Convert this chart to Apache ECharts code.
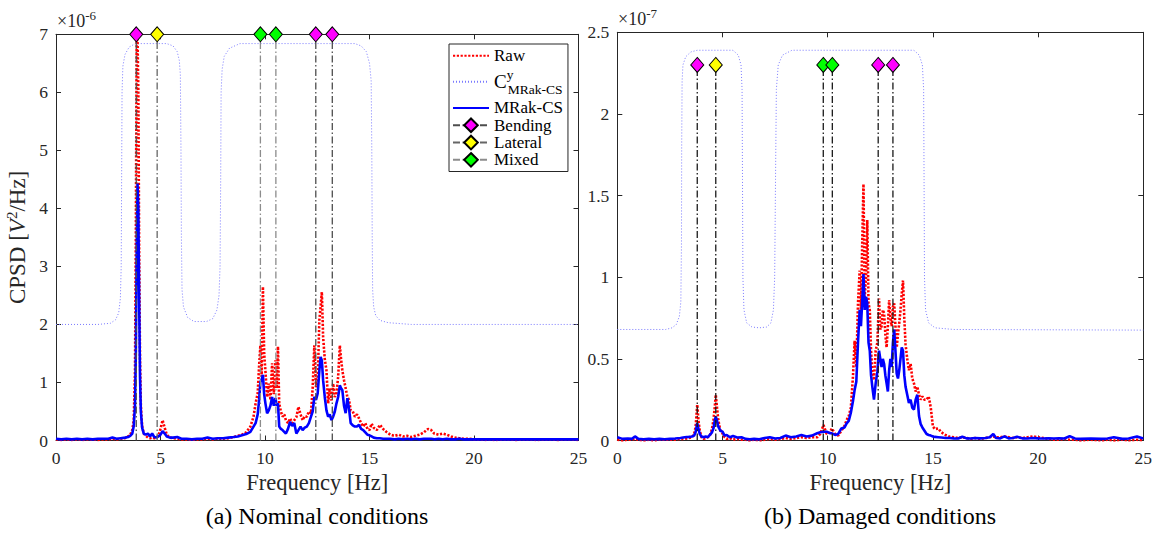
<!DOCTYPE html>
<html><head><meta charset="utf-8">
<script src="https://cdn.jsdelivr.net/npm/echarts@6/dist/echarts.min.js"></script>
<style>html,body{margin:0;padding:0;background:#fff}#c{width:1157px;height:537px}</style>
</head><body><div id="c"></div>
<script>
// ---------- (a) Nominal conditions, values x1e-6 ----------
const freqNom = [
0, 0.25, 0.5, 0.75, 1.0, 1.25, 1.5, 1.75, 2.0, 2.25,
2.5, 2.7, 2.9, 3.1, 3.3, 3.45, 3.55, 3.65, 3.72, 3.78,
3.82, 3.86, 3.9, 3.94, 3.98, 4.02, 4.06, 4.12, 4.2, 4.3,
4.4, 4.5, 4.6, 4.7, 4.8, 4.9, 5.0, 5.1, 5.2, 5.3,
5.45, 5.6, 5.8, 6.0, 6.25, 6.5, 6.75, 7.0, 7.25, 7.5,
7.75, 8.0, 8.25, 8.5, 8.7, 8.9, 9.1, 9.3, 9.45, 9.55,
9.65, 9.72, 9.78, 9.84, 9.9, 9.96, 10.02, 10.1, 10.18, 10.26,
10.34, 10.42, 10.5, 10.56, 10.62, 10.68, 10.76, 10.84, 10.92, 11.0,
11.1, 11.2, 11.3, 11.4, 11.5, 11.6, 11.7, 11.8, 11.9, 12.0,
12.1, 12.2, 12.28, 12.36, 12.44, 12.52, 12.6, 12.66, 12.72, 12.78,
12.86, 12.94, 13.02, 13.1, 13.18, 13.26, 13.34, 13.42, 13.5, 13.58,
13.64, 13.7, 13.78, 13.86, 13.94, 14.02, 14.1, 14.2, 14.3, 14.4,
14.5, 14.6, 14.7, 14.8, 14.9, 15.0, 15.1, 15.2, 15.35, 15.5,
15.65, 15.8, 16.0, 16.2, 16.4, 16.6, 16.8, 17.0, 17.2, 17.4,
17.6, 17.8, 17.95, 18.1, 18.3, 18.5, 18.7, 18.9, 19.1, 19.3,
19.5, 19.75, 20.0, 20.25, 20.5, 20.75, 21.0, 21.5, 22.0, 22.5,
23.0, 23.5, 24.0, 24.5, 25.0];
const rawNom = [
0.02, 0.01, 0.02, 0.01, 0.02, 0.01, 0.02, 0.02, 0.01, 0.02,
0.02, 0.03, 0.02, 0.03, 0.04, 0.07, 0.1, 0.18, 0.35, 1.2,
3.5, 6.9, 6.95, 6.0, 3.2, 1.4, 0.6, 0.25, 0.12, 0.08,
0.05, 0.04, 0.05, 0.04, 0.05, 0.08, 0.2, 0.35, 0.22, 0.1,
0.05, 0.04, 0.03, 0.02, 0.02, 0.01, 0.02, 0.02, 0.03, 0.02,
0.03, 0.03, 0.04, 0.06, 0.08, 0.1, 0.14, 0.24, 0.41, 0.64,
0.81, 1.3, 1.64, 1.1, 2.65, 1.5, 1.2, 0.75, 0.98, 0.7,
1.33, 0.8, 1.38, 0.9, 1.62, 0.64, 0.5, 0.41, 0.45, 0.35,
0.3, 0.38, 0.3, 0.35, 0.4, 0.58, 0.45, 0.35, 0.42, 0.41,
0.5, 0.47, 0.9, 1.64, 0.92, 1.0, 2.07, 2.3, 2.56, 1.79,
1.4, 1.21, 0.64, 0.9, 0.69, 0.98, 0.75, 0.81, 1.1, 1.64,
1.4, 1.21, 1.04, 0.9, 0.75, 0.7, 0.52, 0.5, 0.41, 0.45,
0.38, 0.3, 0.24, 0.3, 0.2, 0.18, 0.29, 0.22, 0.18, 0.27,
0.2, 0.15, 0.1, 0.08, 0.1, 0.07, 0.08, 0.06, 0.08, 0.1,
0.14, 0.2, 0.18, 0.12, 0.1, 0.12, 0.1, 0.07, 0.05, 0.04,
0.03, 0.03, 0.02, 0.02, 0.01, 0.02, 0.01, 0.02, 0.01, 0.02,
0.01, 0.02, 0.01, 0.02, 0.01];
const mrakNom = [
0.03, 0.02, 0.03, 0.02, 0.03, 0.02, 0.03, 0.02, 0.03, 0.03,
0.03, 0.05, 0.03, 0.04, 0.05, 0.06, 0.08, 0.12, 0.25, 0.6,
1.5, 3.2, 4.43, 4.0, 2.4, 1.1, 0.5, 0.22, 0.12, 0.1,
0.12, 0.07, 0.12, 0.06, 0.05, 0.07, 0.1, 0.16, 0.12, 0.07,
0.05, 0.05, 0.06, 0.03, 0.03, 0.02, 0.03, 0.03, 0.05, 0.03,
0.04, 0.04, 0.05, 0.06, 0.07, 0.09, 0.11, 0.15, 0.24, 0.3,
0.45, 0.7, 1.01, 1.05, 1.13, 0.8, 0.64, 0.47, 0.52, 0.6,
0.75, 0.6, 0.73, 0.6, 0.64, 0.24, 0.2, 0.18, 0.15, 0.12,
0.2, 0.32, 0.25, 0.3, 0.12, 0.18, 0.24, 0.18, 0.22, 0.24,
0.3, 0.41, 0.5, 0.75, 0.7, 0.81, 1.2, 1.44, 1.38, 1.04,
0.75, 0.52, 0.41, 0.45, 0.35, 0.41, 0.5, 0.64, 0.75, 0.95,
0.9, 0.87, 0.6, 0.47, 0.73, 0.55, 0.3, 0.26, 0.24, 0.24,
0.27, 0.2, 0.18, 0.14, 0.1, 0.09, 0.07, 0.05, 0.04, 0.04,
0.03, 0.03, 0.03, 0.02, 0.03, 0.02, 0.03, 0.02, 0.03, 0.02,
0.03, 0.03, 0.03, 0.02, 0.03, 0.02, 0.03, 0.02, 0.02, 0.03,
0.02, 0.02, 0.02, 0.02, 0.02, 0.02, 0.02, 0.02, 0.02, 0.02,
0.02, 0.02, 0.02, 0.02, 0.02];
const cyNomF = [0, 2.0, 2.6, 2.85, 3.0, 3.08, 3.12, 3.14, 3.16, 3.2,
3.3, 3.5, 3.8, 5.3, 5.6, 5.8, 5.9, 5.95, 5.98, 6.0,
6.03, 6.1, 6.3, 6.6, 7.2, 7.5, 7.7, 7.8, 7.85, 7.88,
7.9, 7.95, 8.05, 8.3, 8.8, 14.3, 14.6, 14.85, 15.0, 15.08,
15.11, 15.13, 15.15, 15.2, 15.3, 15.5, 15.9, 17, 25];
const cyNomV = [2.0, 2.0, 2.02, 2.08, 2.2, 2.45, 3.0, 4.5, 6.0, 6.45,
6.65, 6.78, 6.84, 6.84, 6.8, 6.7, 6.55, 6.3, 5.0, 3.5,
2.6, 2.3, 2.12, 2.05, 2.05, 2.1, 2.25, 2.5, 3.0, 4.5,
6.0, 6.4, 6.62, 6.76, 6.84, 6.84, 6.8, 6.7, 6.5, 6.2,
5.0, 3.5, 2.6, 2.3, 2.15, 2.07, 2.03, 2.0, 2.0];
const bendNom = [3.84, 12.43, 13.22];
const latNom = [4.84];
const mixNom = [9.78, 10.52];
const markTopNom = 7;

// ---------- (b) Damaged conditions, values x1e-7 ----------
const freqDam = [
0, 0.25, 0.5, 0.7, 0.84, 1.0, 1.25, 1.5, 1.75, 2.0,
2.25, 2.5, 2.75, 3.0, 3.2, 3.4, 3.55, 3.65, 3.72, 3.8,
3.86, 3.92, 4.0, 4.1, 4.2, 4.3, 4.4, 4.5, 4.57, 4.63,
4.68, 4.74, 4.8, 4.9, 5.0, 5.1, 5.2, 5.35, 5.5, 5.7,
5.9, 6.1, 6.3, 6.5, 6.75, 7.0, 7.25, 7.5, 7.75, 8.0,
8.25, 8.5, 8.75, 9.0, 9.25, 9.5, 9.65, 9.8, 9.95, 10.1,
10.2, 10.35, 10.5, 10.65, 10.8, 10.9, 11.0, 11.1, 11.2, 11.28,
11.36, 11.44, 11.52, 11.58, 11.64, 11.7, 11.76, 11.82, 11.88, 11.94,
12.0, 12.06, 12.12, 12.2, 12.28, 12.36, 12.44, 12.5, 12.56, 12.62,
12.68, 12.74, 12.8, 12.86, 12.92, 12.98, 13.04, 13.1, 13.16, 13.22,
13.28, 13.34, 13.4, 13.46, 13.52, 13.58, 13.64, 13.7, 13.78, 13.86,
13.94, 14.02, 14.1, 14.18, 14.26, 14.34, 14.42, 14.5, 14.6, 14.7,
14.8, 14.9, 15.0, 15.1, 15.25, 15.4, 15.6, 15.8, 16.0, 16.2,
16.4, 16.6, 16.8, 17.0, 17.25, 17.5, 17.7, 17.87, 18.0, 18.2,
18.4, 18.6, 18.8, 19.0, 19.25, 19.5, 19.75, 20.0, 20.25, 20.5,
20.75, 21.0, 21.25, 21.5, 21.75, 22.0, 22.5, 23.0, 23.3, 23.6,
24.0, 24.3, 24.7, 25.0];
const rawDam = [
0.005, 0.0, 0.005, 0.005, 0.01, 0.005, 0.0, 0.005, 0.0, 0.005,
0.005, 0.005, 0.005, 0.01, 0.01, 0.015, 0.02, 0.04, 0.08, 0.22,
0.12, 0.06, 0.02, 0.01, 0.015, 0.02, 0.03, 0.07, 0.125, 0.2,
0.28, 0.2, 0.125, 0.06, 0.044, 0.02, 0.01, 0.015, 0.005, 0.01,
0.005, 0.005, 0.0, 0.005, 0.0, 0.005, 0.01, 0.005, 0.01, 0.015,
0.01, 0.015, 0.02, 0.015, 0.02, 0.02, 0.04, 0.095, 0.04, 0.05,
0.074, 0.04, 0.03, 0.06, 0.09, 0.125, 0.15, 0.2, 0.39, 0.61,
0.45, 0.84, 1.04, 0.8, 1.2, 1.57, 0.88, 1.0, 1.35, 0.84,
0.8, 0.55, 0.43, 0.37, 0.55, 0.6, 0.87, 0.68, 0.7, 0.8,
0.78, 0.65, 0.57, 0.7, 0.86, 0.75, 0.7, 0.82, 0.84, 0.7,
0.57, 0.65, 0.72, 0.8, 0.9, 0.98, 0.75, 0.59, 0.5, 0.43,
0.47, 0.38, 0.35, 0.3, 0.33, 0.28, 0.25, 0.27, 0.25, 0.25,
0.27, 0.2, 0.085, 0.07, 0.074, 0.05, 0.034, 0.023, 0.02, 0.015,
0.02, 0.015, 0.01, 0.015, 0.01, 0.015, 0.02, 0.025, 0.02, 0.02,
0.025, 0.02, 0.015, 0.02, 0.015, 0.02, 0.025, 0.02, 0.015, 0.01,
0.005, 0.005, 0.01, 0.005, 0.005, 0.0, 0.005, 0.0, 0.005, 0.0,
0.005, 0.0, 0.005, 0.0];
const mrakDam = [
0.02, 0.01, 0.012, 0.01, 0.025, 0.01, 0.008, 0.01, 0.008, 0.01,
0.008, 0.01, 0.012, 0.015, 0.02, 0.022, 0.025, 0.03, 0.05, 0.105,
0.07, 0.04, 0.025, 0.02, 0.025, 0.02, 0.035, 0.05, 0.074, 0.12,
0.146, 0.12, 0.085, 0.06, 0.054, 0.03, 0.034, 0.02, 0.027, 0.018,
0.02, 0.01, 0.008, 0.01, 0.008, 0.015, 0.02, 0.012, 0.015, 0.03,
0.02, 0.025, 0.034, 0.025, 0.03, 0.044, 0.05, 0.054, 0.054, 0.045,
0.044, 0.034, 0.04, 0.074, 0.08, 0.105, 0.12, 0.17, 0.24, 0.31,
0.36, 0.6, 0.8, 0.7, 0.85, 1.02, 0.8, 0.88, 0.84, 0.6,
0.55, 0.4, 0.33, 0.25, 0.35, 0.42, 0.55, 0.5, 0.45, 0.5,
0.47, 0.4, 0.35, 0.3, 0.43, 0.5, 0.45, 0.6, 0.68, 0.55,
0.41, 0.38, 0.43, 0.5, 0.57, 0.55, 0.4, 0.33, 0.28, 0.23,
0.25, 0.2, 0.19, 0.25, 0.28, 0.15, 0.1, 0.08, 0.06, 0.04,
0.034, 0.03, 0.025, 0.022, 0.02, 0.018, 0.015, 0.015, 0.013, 0.012,
0.023, 0.013, 0.012, 0.015, 0.013, 0.015, 0.02, 0.04, 0.015, 0.013,
0.025, 0.013, 0.015, 0.023, 0.013, 0.012, 0.015, 0.013, 0.012, 0.013,
0.012, 0.013, 0.012, 0.027, 0.012, 0.01, 0.012, 0.01, 0.012, 0.02,
0.01, 0.012, 0.025, 0.012];
const cyDamF = [0, 2.3, 2.6, 2.8, 2.95, 3.02, 3.05, 3.06, 3.08, 3.12,
3.25, 3.5, 3.8, 5.5, 5.75, 5.88, 5.93, 5.95, 5.97, 6.02,
6.15, 6.4, 6.75, 7.1, 7.3, 7.42, 7.48, 7.52, 7.56, 7.65,
7.85, 8.3, 14.1, 14.35, 14.5, 14.56, 14.58, 14.6, 14.65, 14.8,
15.1, 16, 25];
const cyDamV = [0.68, 0.68, 0.69, 0.71, 0.76, 0.85, 1.2, 1.8, 2.2, 2.3,
2.35, 2.38, 2.39, 2.39, 2.36, 2.3, 2.15, 1.6, 1.0, 0.8,
0.72, 0.695, 0.69, 0.695, 0.72, 0.8, 1.0, 1.6, 2.15, 2.3,
2.36, 2.39, 2.39, 2.36, 2.3, 2.15, 1.6, 1.0, 0.8, 0.72,
0.69, 0.68, 0.676];
const bendDam = [3.80, 12.40, 13.10];
const latDam = [4.68];
const mixDam = [9.79, 10.22];
const markTopDam = 2.3;

// ---------- axes ----------
const xMin = 0, xMax = 25, xStep = 5;
const yMaxNom = 7, yStepNom = 1;
const yMaxDam = 2.5, yStepDam = 0.5;

const FONT = "'Liberation Serif', 'DejaVu Serif', serif";
const AX = '#262626';

function pairs(xs, ys, name) {
  if (xs.length !== ys.length) throw new Error(name + ' length mismatch ' + xs.length + ' vs ' + ys.length);
  return xs.map((x, i) => [x, ys[i]]);
}
function stems(fs, top) {
  const d = [];
  fs.forEach((f, i) => {
    if (i > 0) d.push({ value: [f, '-'], symbol: 'none' });
    d.push({ value: [f, 0], symbol: 'none' });
    d.push({ value: [f, top] });
  });
  return d;
}
function txt(size, extra) {
  return Object.assign({ fontFamily: FONT, fontSize: size, fontWeight: 'normal', fontStyle: 'normal', color: AX }, extra || {});
}
function xAxisCfg(g, pos) {
  const bottom = pos === 'bottom';
  return {
    type: 'value', gridIndex: g, position: pos, min: xMin, max: xMax, interval: xStep,
    axisLine: { show: true, onZero: false, lineStyle: { color: AX, width: 1 } },
    axisTick: { show: true, inside: true, length: 5, lineStyle: { color: AX, width: 1 } },
    axisLabel: Object.assign({ show: bottom, margin: 8 }, txt(17.5)),
    splitLine: { show: false },
    name: bottom ? 'Frequency [Hz]' : '', nameLocation: 'middle', nameGap: 30,
    nameTextStyle: txt(22.5)
  };
}
function yAxisCfg(g, pos, max, step, withName) {
  const left = pos === 'left';
  const c = {
    type: 'value', gridIndex: g, position: pos, min: 0, max: max, interval: step,
    axisLine: { show: true, onZero: false, lineStyle: { color: AX, width: 1 } },
    axisTick: { show: true, inside: true, length: 5, lineStyle: { color: AX, width: 1 } },
    axisLabel: Object.assign({ show: left, margin: 8 }, txt(17.5)),
    splitLine: { show: false }
  };
  if (withName) {
    c.name = 'CPSD [{i|V}{s|2}/Hz]';
    c.nameLocation = 'middle';
    c.nameGap = 25;
    c.nameRotate = 90;
    c.nameTextStyle = txt(23, {
      lineHeight: 27,
      rich: {
        i: txt(23, { fontStyle: 'italic', lineHeight: 27 }),
        s: txt(15, { lineHeight: 16, verticalAlign: 'top' })
      }
    });
  }
  return c;
}
function panelSeries(xi, yi, freq, raw, mrak, cyF, cyV, bend, lat, mix, top, lineCols, tag) {
  const base = { type: 'line', xAxisIndex: xi, yAxisIndex: yi, animation: false, emphasis: { disabled: true } };
  const marker = (name, fs, fill, col) => Object.assign({}, base, {
    name: name, data: stems(fs, top), symbol: 'diamond', symbolSize: [13, 15], showSymbol: true,
    clip: false, z: 6, connectNulls: false,
    itemStyle: { color: fill, borderColor: '#000', borderWidth: 1, opacity: 1 },
    lineStyle: { color: col, width: 1.3, type: [7, 2.5, 1.5, 2.5] }
  });
  return [
    Object.assign({}, base, { name: 'Cy', data: pairs(cyF, cyV, 'cy' + tag), symbol: 'none', showSymbol: false, z: 2,
      itemStyle: { color: '#7a7aff', opacity: 0 }, lineStyle: { color: '#7a7aff', width: 1, type: [1, 2] } }),
    Object.assign({}, base, { name: 'Raw', data: pairs(freq, raw, 'raw' + tag), symbol: 'none', showSymbol: false, z: 3,
      itemStyle: { color: '#ff0000', opacity: 0 }, lineStyle: { color: '#ff0000', width: 2.6, type: [2.2, 1.6] } }),
    Object.assign({}, base, { name: 'MRak-CS', data: pairs(freq, mrak, 'mrak' + tag), symbol: 'none', showSymbol: false, z: 4,
      itemStyle: { color: '#0000ff', opacity: 0 }, lineStyle: { color: '#0000ff', width: 2.6 } }),
    marker('Bending', bend, '#ff00ff', lineCols[0]),
    marker('Lateral', lat, '#ffff00', lineCols[1]),
    marker('Mixed', mix, '#00ff00', lineCols[2])
  ];
}

const chart = echarts.init(document.getElementById('c'), null, { renderer: 'svg', width: 1157, height: 537 });
const expRich = {
  a: txt(18, { lineHeight: 21, verticalAlign: 'bottom' }),
  b: txt(13, { lineHeight: 13, verticalAlign: 'top' })
};
const option = {
  backgroundColor: '#ffffff',
  animation: false,
  textStyle: { fontFamily: FONT, fontWeight: 'normal' },
  grid: [
    { left: 56, top: 34.3, width: 522.5, height: 406.2, outerBoundsMode: 'none', containLabel: false },
    { left: 617.3, top: 32.3, width: 526, height: 408.2, outerBoundsMode: 'none', containLabel: false }
  ],
  xAxis: [xAxisCfg(0, 'bottom'), xAxisCfg(0, 'top'), xAxisCfg(1, 'bottom'), xAxisCfg(1, 'top')],
  yAxis: [
    yAxisCfg(0, 'left', yMaxNom, yStepNom, true), yAxisCfg(0, 'right', yMaxNom, yStepNom, false),
    yAxisCfg(1, 'left', yMaxDam, yStepDam, false), yAxisCfg(1, 'right', yMaxDam, yStepDam, false)
  ],
  title: [
    { text: '{a|×10}{b|-6}', left: 57, top: 9, padding: 0, textStyle: txt(18, { rich: expRich }) },
    { text: '{a|×10}{b|-7}', left: 618, top: 7, padding: 0, textStyle: txt(18, { rich: expRich }) },
    { text: '(a) Nominal conditions', left: 317, top: 504, textAlign: 'center', padding: 0,
      textStyle: txt(24, { color: '#000' }) },
    { text: '(b) Damaged conditions', left: 880, top: 504, textAlign: 'center', padding: 0,
      textStyle: txt(24, { color: '#000' }) }
  ],
  legend: {
    data: ['Raw', 'Cy', 'MRak-CS', 'Bending', 'Lateral', 'Mixed'],
    orient: 'vertical', left: 449, top: 44,
    itemWidth: 36, itemHeight: 17, itemGap: 0,
    padding: [3, 5, 3, 3],
    backgroundColor: '#ffffff', borderColor: AX, borderWidth: 1, borderRadius: 0,
    selectedMode: false,
    textStyle: txt(17, {
      color: '#000', lineHeight: 17.3,
      rich: {
        c: txt(19, { color: '#000', lineHeight: 35, verticalAlign: 'middle' }),
        s: txt(13.5, { color: '#000', lineHeight: 13.5, verticalAlign: 'top', width: 1, padding: [3, 0, 0, 0] }),
        u: txt(13.5, { color: '#000', lineHeight: 13.5, verticalAlign: 'bottom', padding: [0, 0, 3, 0] })
      }
    }),
    formatter: function (n) { return n === 'Cy' ? '{c|C}{s|y}{u|MRak-CS}' : n; }
  },
  series: [].concat(
    panelSeries(0, 0, freqNom, rawNom, mrakNom, cyNomF, cyNomV, bendNom, latNom, mixNom, markTopNom,
      ['#4d4d4d', '#666666', '#8c8c8c'], 'Nom'),
    panelSeries(2, 2, freqDam, rawDam, mrakDam, cyDamF, cyDamV, bendDam, latDam, mixDam, markTopDam,
      ['#1a1a1a', '#1a1a1a', '#1a1a1a'], 'Dam')
  )
};
chart.setOption(option);
</script>
</body></html>
